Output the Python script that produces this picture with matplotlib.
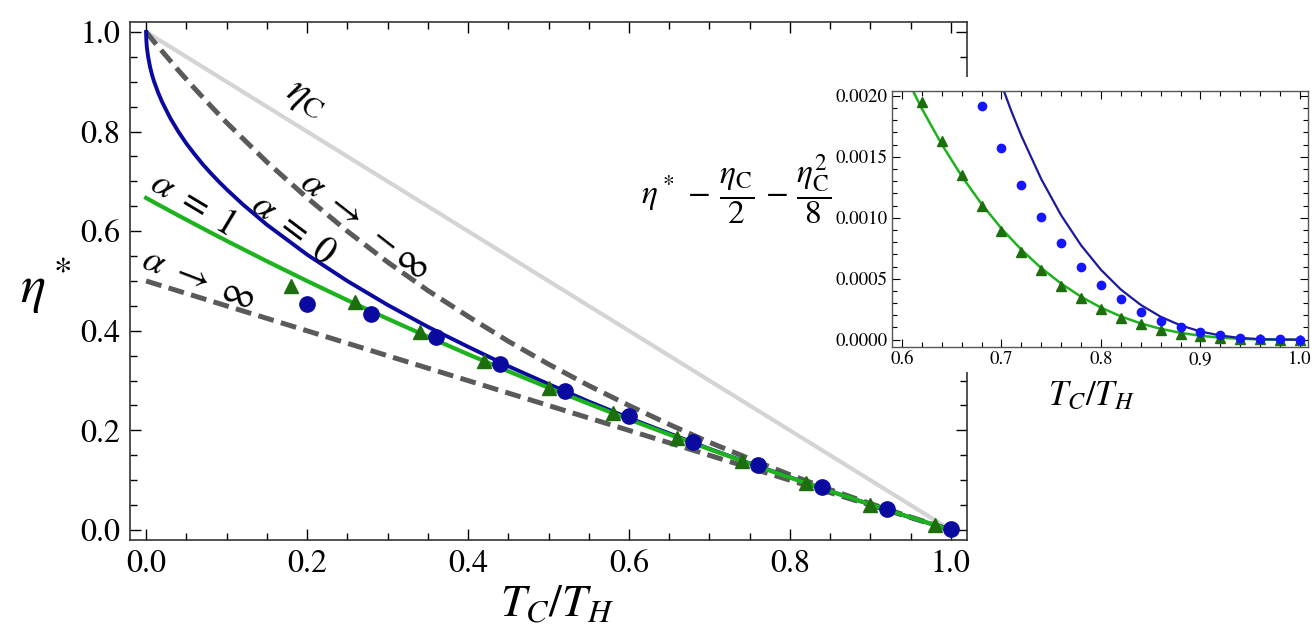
import matplotlib
matplotlib.use('Agg')
import matplotlib.pyplot as plt
from matplotlib.ticker import MultipleLocator, FormatStrFormatter
from matplotlib.patches import Rectangle

plt.rcParams['font.family'] = ['STIXGeneral', 'DejaVu Serif']
plt.rcParams['mathtext.fontset'] = 'stix'

# ---------------- main panel data ----------------
x_curve = [0, 0.005, 0.01, 0.02, 0.04, 0.06, 0.08, 0.1, 0.15, 0.2, 0.25, 0.3, 0.35,
           0.4, 0.45, 0.5, 0.55, 0.6, 0.65, 0.7, 0.75, 0.8, 0.85, 0.9, 0.95, 1.0]
x_blue = [0, 0.0002, 0.0005, 0.001, 0.0025, 0.005, 0.0075, 0.01, 0.015, 0.02, 0.03,
          0.04, 0.05, 0.06, 0.07, 0.08, 0.09, 0.1, 0.12, 0.15, 0.2, 0.25, 0.3, 0.35,
          0.4, 0.45, 0.5, 0.55, 0.6, 0.65, 0.7, 0.75, 0.8, 0.85, 0.9, 0.95, 1.0]
eta_alpha0 = [1.0, 0.986, 0.978, 0.968, 0.950, 0.929, 0.913, 0.900, 0.878, 0.859, 0.827,
              0.800, 0.776, 0.755, 0.735, 0.717, 0.700, 0.684, 0.654, 0.613, 0.553,
              0.500, 0.452, 0.408, 0.368, 0.329, 0.293, 0.258, 0.225, 0.194, 0.163,
              0.134, 0.106, 0.078, 0.051, 0.025, 0.0]
eta_alpha1 = [0.6667, 0.6622, 0.6578, 0.6490, 0.6316, 0.6144, 0.5974, 0.5806, 0.5397,
              0.5000, 0.4615, 0.4242, 0.3881, 0.3529, 0.3188, 0.2857, 0.2535, 0.2222,
              0.1918, 0.1622, 0.1333, 0.1053, 0.0779, 0.0513, 0.0253, 0.0]
eta_minus_inf = [1.0, 0.990, 0.980, 0.961, 0.923, 0.887, 0.852, 0.818, 0.739, 0.667,
                 0.600, 0.538, 0.481, 0.429, 0.379, 0.333, 0.290, 0.250, 0.212, 0.176,
                 0.143, 0.111, 0.081, 0.053, 0.026, 0.0]
x_line = [0.0, 1.0]
eta_carnot = [1.0, 0.0]
eta_plus_inf = [0.5, 0.0]

tri_x = [0.18, 0.26, 0.34, 0.42, 0.50, 0.58, 0.66, 0.74, 0.82, 0.90, 0.98]
tri_y = [0.490, 0.458, 0.398, 0.339, 0.285, 0.234, 0.184, 0.138, 0.094, 0.051, 0.010]
circ_x = [0.20, 0.28, 0.36, 0.44, 0.52, 0.60, 0.68, 0.76, 0.84, 0.92, 1.00]
circ_y = [0.453, 0.433, 0.387, 0.333, 0.279, 0.228, 0.177, 0.131, 0.086, 0.043, 0.003]

# ---------------- inset data ----------------
in_x = [0.62, 0.64, 0.66, 0.68, 0.70, 0.72, 0.74, 0.76, 0.78, 0.80, 0.82, 0.84,
        0.86, 0.88, 0.90, 0.92, 0.94, 0.96, 0.98, 1.00]
in_tri = [0.00195, 0.00163, 0.00135, 0.00110, 0.00089, 0.00072, 0.00057, 0.00044,
          0.00034, 0.00025, 0.00018, 0.00013, 0.00008, 0.00005, 0.00003, 0.000016,
          0.000007, 0.000002, 0.0, 0.0]
circ_in_x = [0.68, 0.70, 0.72, 0.74, 0.76, 0.78, 0.80, 0.82, 0.84, 0.86, 0.88, 0.90,
             0.92, 0.94, 0.96, 0.98, 1.00]
in_circ = [0.00192, 0.00157, 0.00127, 0.00101, 0.00079, 0.00060, 0.00045, 0.00033,
           0.00023, 0.00015, 0.00010, 0.00006, 0.000035, 0.000016, 0.000008,
           0.000002, 0.0]
in_green_x = [0.60, 0.62, 0.64, 0.66, 0.68, 0.70, 0.72, 0.74, 0.76, 0.78, 0.80, 0.82,
              0.84, 0.86, 0.88, 0.90, 0.92, 0.94, 0.96, 0.98, 1.00]
in_green_y = [0.002222, 0.001895, 0.001602, 0.001342, 0.001113, 0.000912, 0.000738,
              0.000587, 0.000460, 0.000352, 0.000263, 0.000191, 0.000133, 0.000089,
              0.000056, 0.000032, 0.000016, 0.000007, 0.000002, 0.0000003, 0.0]
in_blue_x = [0.70, 0.71, 0.72, 0.74, 0.76, 0.78, 0.80, 0.82, 0.84, 0.86, 0.88, 0.90,
             0.92, 0.94, 0.96, 0.98, 1.00]
in_blue_y = [0.002093, 0.001873, 0.001672, 0.001317, 0.001020, 0.000774, 0.000573,
             0.000411, 0.000285, 0.000188, 0.000117, 0.000067, 0.000034, 0.000014,
             0.000004, 0.0000006, 0.0]

blue = '#0a0aa0'
green = '#1db31d'
dkgreen = '#1d6e0c'
dash = '#5a5a5a'

fig = plt.figure(figsize=(13.16, 6.41), dpi=100)

# ---------------- main axes ----------------
ax = fig.add_axes([0.0988, 0.1576, 0.636, 0.8081])
ax.plot(x_line, eta_carnot, color='#d4d4d4', lw=3.0, zorder=1)
ax.plot(x_curve, eta_minus_inf, color=dash, lw=3.6, dashes=(3.2, 1.5), zorder=2)
ax.plot(x_line, eta_plus_inf, color=dash, lw=3.6, dashes=(3.2, 1.5), zorder=2)
ax.plot(x_blue, eta_alpha0, color=blue, lw=2.8, zorder=3)
ax.plot(x_curve, eta_alpha1, color=green, lw=3.0, zorder=3)
ax.plot(tri_x, tri_y, '^', color=dkgreen, ms=10, mec=dkgreen, zorder=4)
ax.plot(circ_x, circ_y, 'o', color=blue, ms=11, mec=blue, zorder=5)

ax.set_xlim(-0.02, 1.02)
ax.set_ylim(-0.02, 1.02)
ax.xaxis.set_major_locator(MultipleLocator(0.2))
ax.xaxis.set_minor_locator(MultipleLocator(0.05))
ax.yaxis.set_major_locator(MultipleLocator(0.2))
ax.yaxis.set_minor_locator(MultipleLocator(0.05))
ax.xaxis.set_major_formatter(FormatStrFormatter('%.1f'))
ax.yaxis.set_major_formatter(FormatStrFormatter('%.1f'))
ax.tick_params(which='both', direction='in', top=True, right=True, labelsize=23, pad=7)
ax.tick_params(which='major', length=8, width=1)
ax.tick_params(which='minor', length=5, width=1)
for s in ax.spines.values():
    s.set_color('#333333')
    s.set_linewidth(1.2)

ax.set_xlabel(r'$T_C/T_H$', fontsize=33)
ax.xaxis.set_label_coords(0.51, -0.087)
ax.set_ylabel(r'$\eta^*$', fontsize=38, rotation=0, va='center', ha='center')
ax.yaxis.set_label_coords(-0.101, 0.49)

# curve labels
ax.text(0.198, 0.865, r'$\eta_{\rm C}$', fontsize=30, rotation=-31, ha='center', va='center')
ax.text(0.272, 0.612, r'$\alpha\ \rightarrow\ -\infty$', fontsize=27, rotation=-38,
        ha='center', va='center')
ax.text(0.183, 0.604, r'$\alpha\ =\ 0$', fontsize=27, rotation=-37, ha='center', va='center')
ax.text(0.057, 0.655, r'$\alpha\ =\ 1$', fontsize=27, rotation=-31, ha='center', va='center')
ax.text(0.065, 0.502, r'$\alpha\ \rightarrow\ \infty$', fontsize=27, rotation=-21,
        ha='center', va='center')

# white patch behind the inset, hides the main frame there
fig.patches.append(Rectangle((0.6345, 0.4197), 0.3655, 0.4602, transform=fig.transFigure,
                             facecolor='white', edgecolor='none', zorder=1))

# ---------------- inset ----------------
ins = fig.add_axes([0.6778, 0.4587, 0.3161, 0.3994], zorder=2)
ins.plot(in_green_x, in_green_y, color=green, lw=1.8, zorder=2)
ins.plot(in_blue_x, in_blue_y, color='#1a1a9c', lw=1.6, zorder=2)
ins.plot(in_x, in_tri, '^', color=dkgreen, ms=7.5, mec=dkgreen, zorder=3)
ins.plot(circ_in_x, in_circ, 'o', color='#1515ff', ms=6, mec='#1515ff', zorder=3)
ins.set_xlim(0.59, 1.008)
ins.set_ylim(-0.00006, 0.00204)
ins.xaxis.set_major_locator(MultipleLocator(0.1))
ins.xaxis.set_minor_locator(MultipleLocator(0.02))
ins.yaxis.set_major_locator(MultipleLocator(0.0005))
ins.yaxis.set_minor_locator(MultipleLocator(0.0001))
ins.xaxis.set_major_formatter(FormatStrFormatter('%.1f'))
ins.yaxis.set_major_formatter(FormatStrFormatter('%.4f'))
ins.tick_params(which='both', direction='in', top=True, right=True, labelsize=13.5, pad=3)
ins.tick_params(which='major', length=6, width=0.8)
ins.tick_params(which='minor', length=3.5, width=0.8)
for s in ins.spines.values():
    s.set_color('#555555')
    s.set_linewidth(1.0)

ins.set_xlabel(r'$T_C/T_H$', fontsize=25)
ins.xaxis.set_label_coords(0.48, -0.135)
ins.set_ylabel(r'$\eta^*\, -\, \dfrac{\eta_{\rm C}}{2}\, -\, \dfrac{\eta_{\rm C}^2}{8}$',
               fontsize=24, rotation=0, va='center', ha='center')
ins.yaxis.set_label_coords(-0.375, 0.613)

fig.savefig('out.png', dpi=100)
